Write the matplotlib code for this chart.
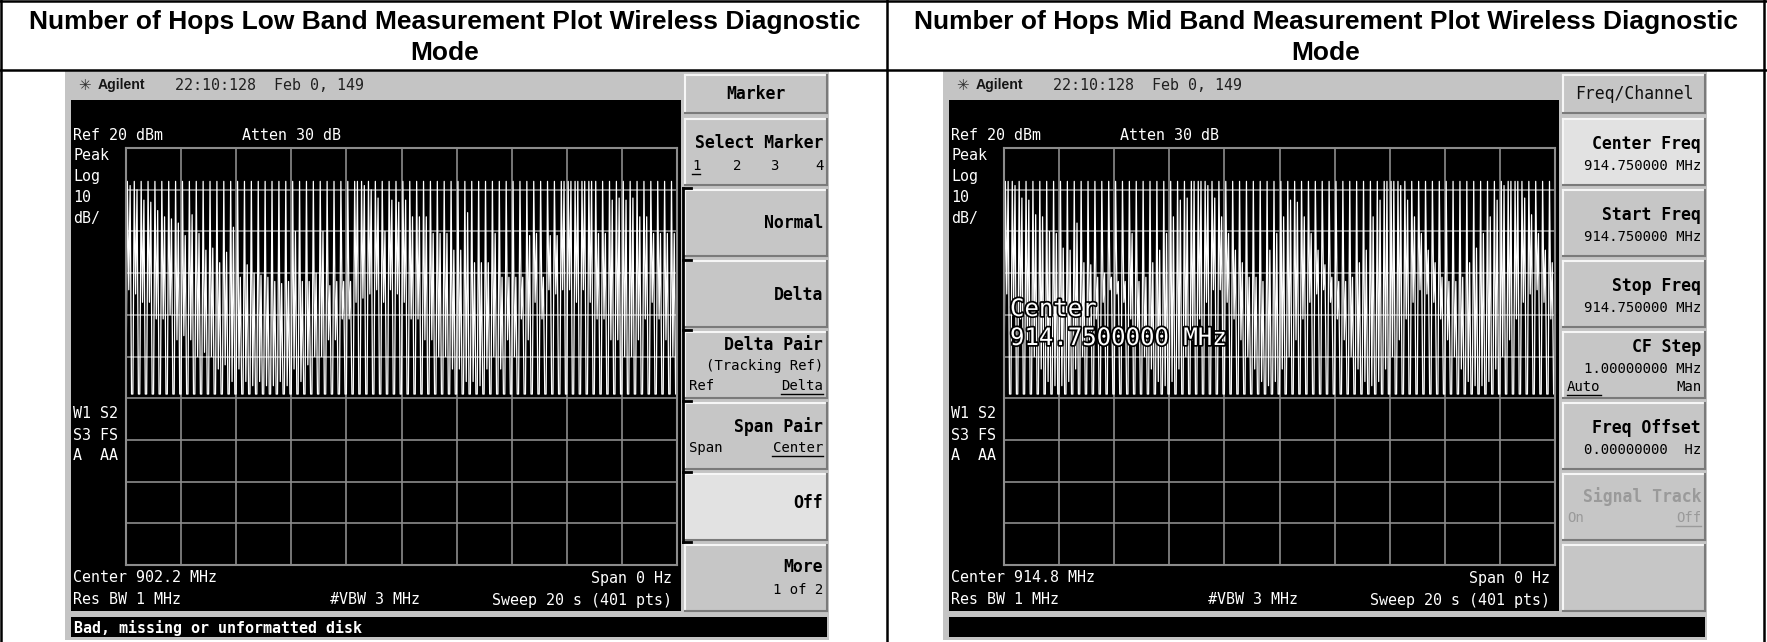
import matplotlib.pyplot as plt
from matplotlib.patches import Rectangle
import matplotlib.patheffects as pe
import numpy as np

W, H = 1767, 642

titles = [["Number of Hops Low Band Measurement Plot Wireless Diagnostic", "Mode"],
          ["Number of Hops Mid Band Measurement Plot Wireless Diagnostic", "Mode"]]
center_freqs = ["Center 902.2 MHz", "Center 914.8 MHz"]

# trace levels in dBm (ref 20 dBm, 10 dB/div)
top_level = 12
floor_level = -39
low_hi = [11, 10, 7.5, 7, 5, 3.5, 3, 2, -1, 4, -0.5, -4.5, -4, -7.5, -5, 1, -11, -8, -10, -10.5,
          -11, -12, -12.5, -12, 0, -12, -12, -10, 0, -13, -12, -12, -12, 12, 11, 10, 8, 0, 7.5, 7,
          7.5, 3.5, 3.5, 3.5, -0.5, -0.5, -0.5, -4.5, -4.5, 4.5, -7.5, -7.5, -7.5, -0.5, -11, -11, -11, -11, -1, -0.5,
          -11, -1, -1, 12, 12, 12, 12, 12, -0.5, -0.5, 7.5, 8, 7.5, 8, 3.5, 3.5, -0.5, -0.5, -0.5, -0.5]
low_lo = [-14, -15, -17, -17, -21, -21, -20, -26, -25, -26, -30, -29, -30, -33, -32, -36, -33, -36, -37, -36,
          -37, -37, -36, -37, -33, -36, -32, -30, -30, -26, -26, -21, -21, -17, -16, -15, -14, -17, -14, -15,
          -17, -21, -21, -26, -26, -30, -30, -33, -33, -36, -36, -37, -33, -30, -33, -26, -30, -21, -26, -17,
          -21, -14, -15, -14, -14, -17, -14, -17, -21, -21, -26, -26, -30, -30, -26, -21, -17, -21, -26, -30]
mid_hi = [12, 11, 8, 7.5, 4, 3.5, 0, -0.5, -4, -4.5, 2, -7.5, -8, -11, -10, -11, -12, -12, -0.5, -12,
          -11, -7.5, -4.5, -0.5, 3.5, 7.5, 8, 12, 12, 11, 8, 3.5, -0.5, -4.5, -7.5, -11, -11, -12, -4.5, -0.5,
          3.5, 7.5, 7, 3.5, -0.5, -4.5, -8, -11, -12, -12, -11, -7.5, -4.5, 3.5, 7.5, 12, 12, 11, 7.5, 3.5,
          -0.5, -4.5, -7.5, -11, -12, -12, -11, -7.5, -4, -0.5, 3.5, 7.5, 11, 12, 12, 8, 4, -0.5, -4.5, -7.5]
mid_lo = [-15, -17, -21, -26, -30, -33, -36, -37, -37, -36, -33, -30, -26, -21, -17, -14, -15, -17, -21, -26,
          -30, -33, -36, -37, -36, -33, -30, -26, -21, -17, -14, -14, -17, -21, -26, -30, -33, -36, -37, -36,
          -33, -30, -26, -21, -17, -15, -14, -17, -21, -26, -30, -33, -36, -37, -36, -33, -30, -26, -21, -17,
          -14, -15, -17, -21, -26, -30, -33, -36, -37, -37, -36, -33, -30, -26, -21, -17, -15, -14, -17, -21]

MONO = 'DejaVu Sans Mono'
GRAY = '#c4c4c4'
KEY = '#c6c6c6'
KEY_LIT = '#e2e2e2'

fig = plt.figure(figsize=(W / 100, H / 100), dpi=100)
ax = fig.add_axes([0, 0, 1, 1])
ax.set_xlim(0, W)
ax.set_ylim(H, 0)
ax.axis('off')


def pt(px):
    return px * 0.72


def txt(x, y, s, size=15, ha='left', color='white', weight='normal', family=MONO,
        underline=False, on=None, effects=None):
    a = on if on is not None else ax
    a.text(x, y, s, fontsize=pt(size), ha=ha, va='center', color=color,
           fontweight=weight, family=family, transform=ax.transData, clip_on=False,
           path_effects=effects)
    if underline:
        w = len(s) * 0.602 * size
        x0 = x - w if ha == 'right' else x
        ax.plot([x0, x0 + w], [y + size * 0.55, y + size * 0.55], color=color, lw=1)


def key(x, y, w, h, fc=KEY):
    ax.add_patch(Rectangle((x, y), w, h, fc=fc, ec='none'))
    ax.plot([x, x + w], [y, y], color='#f6f6f6', lw=1.5)
    ax.plot([x, x], [y, y + h], color='#f6f6f6', lw=1.5)
    ax.plot([x, x + w], [y + h, y + h], color='#7a7a7a', lw=1.5)
    ax.plot([x + w, x + w], [y, y + h], color='#7a7a7a', lw=1.5)


def panel(dx, cf_label, hi, lo):
    # instrument bezel, header and screen
    ax.add_patch(Rectangle((65 + dx, 71), 764, 569, fc=GRAY, ec='none'))
    ax.add_patch(Rectangle((71 + dx, 100), 610, 511, fc='black', ec='none'))
    ax.add_patch(Rectangle((71 + dx, 617), 756, 20, fc='black', ec='none'))
    txt(78 + dx, 85, '\u2733', size=15, color='#303030', family='DejaVu Sans')
    txt(98 + dx, 85, 'Agilent', size=14, color='#151515', weight='bold', family='Liberation Sans')
    txt(175 + dx, 85, '22:10:128  Feb 0, 149', color='#202020')

    txt(73 + dx, 135, 'Ref 20 dBm')
    txt(242 + dx, 135, 'Atten 30 dB')
    for yy, s in zip([156, 177, 198, 219], ['Peak', 'Log', '10', 'dB/']):
        txt(73 + dx, yy, s)
    for yy, s in zip([413, 435, 456], ['W1 S2', 'S3 FS', 'A  AA']):
        txt(73 + dx, yy, s)
    txt(73 + dx, 578, cf_label)
    txt(73 + dx, 600, 'Res BW 1 MHz')
    txt(330 + dx, 600, '#VBW 3 MHz')
    txt(672 + dx, 578, 'Span 0 Hz', ha='right')
    txt(672 + dx, 600, 'Sweep 20 s (401 pts)', ha='right')

    # trace graticule
    gx = fig.add_axes([(126 + dx) / W, 1 - 565 / H, 551 / W, 417 / H])
    gx.set_facecolor('black')
    gx.set_xlim(0, 400)
    gx.set_ylim(-80, 20)
    gx.set_xticks(np.arange(0, 401, 40))
    gx.set_yticks(np.arange(-80, 21, 10))
    gx.grid(True, color='#8c8c8c', lw=1.2)
    gx.tick_params(length=0, labelbottom=False, labelleft=False)
    for sp in gx.spines.values():
        sp.set_color('#8c8c8c')
        sp.set_linewidth(1.5)
    vals = []
    for h_, l_ in zip(hi, lo):
        vals += [floor_level, top_level, l_, h_, floor_level]
    vals.append(floor_level)
    gx.plot(np.arange(len(vals)), vals, color='white', lw=0.9)
    return gx


panel(0, center_freqs[0], low_hi, low_lo)
gx2 = panel(878, center_freqs[1], mid_hi, mid_lo)

# left softkeys
kx, kw = 685, 142
key(kx, 75, kw, 38)
txt(kx + kw / 2, 94, 'Marker', size=16.5, ha='center', color='black', weight='bold')
tops = [119, 190, 261, 332, 403, 474, 545]
for i, t in enumerate(tops):
    key(kx, t, kw, 66, KEY_LIT if i == 5 else KEY)
R = 823
txt(R, 143, 'Select Marker', size=16.5, ha='right', color='black', weight='bold')
txt(692, 166, '1', size=14, color='black', underline=True)
txt(733, 166, '2', size=14, color='black')
txt(770, 166, '3', size=14, color='black')
txt(815, 166, '4', size=14, color='black')
txt(R, 223, 'Normal', size=16.5, ha='right', color='black', weight='bold')
txt(R, 295, 'Delta', size=16.5, ha='right', color='black', weight='bold')
txt(R, 345, 'Delta Pair', size=16.5, ha='right', color='black', weight='bold')
txt(R, 366, '(Tracking Ref)', size=14, ha='right', color='black')
txt(689, 386, 'Ref', size=14, color='black')
txt(R, 386, 'Delta', size=14, ha='right', color='black', underline=True)
txt(R, 427, 'Span Pair', size=16.5, ha='right', color='black', weight='bold')
txt(689, 448, 'Span', size=14, color='black')
txt(R, 448, 'Center', size=14, ha='right', color='black', underline=True)
txt(R, 503, 'Off', size=16.5, ha='right', color='black', weight='bold')
txt(R, 567, 'More', size=16.5, ha='right', color='black', weight='bold')
txt(R, 590, '1 of 2', size=14, ha='right', color='black')
ax.plot([683, 683], [188, 542], color='black', lw=2)
for yy in [188, 260, 330, 401, 472, 542]:
    ax.plot([683, 691], [yy, yy], color='black', lw=2)
txt(74, 628, 'Bad, missing or unformatted disk', size=15, weight='bold')

# right softkeys
kx2 = kx + 878
R2 = R + 878
key(kx2, 75, kw, 38)
txt(kx2 + kw / 2, 94, 'Freq/Channel', size=16.5, ha='center', color='#101010')
for i, t in enumerate(tops):
    key(kx2, t, kw, 66, KEY_LIT if i == 0 else KEY)
for t, head, sub in [(119, 'Center Freq', '914.750000 MHz'), (190, 'Start Freq', '914.750000 MHz'),
                     (261, 'Stop Freq', '914.750000 MHz'), (403, 'Freq Offset', '0.00000000  Hz')]:
    txt(R2, t + 25, head, size=16.5, ha='right', color='black', weight='bold')
    txt(R2, t + 47, sub, size=14, ha='right', color='black')
txt(R2, 347, 'CF Step', size=16.5, ha='right', color='black', weight='bold')
txt(R2, 369, '1.00000000 MHz', size=14, ha='right', color='black')
txt(kx2 + 4, 387, 'Auto', size=14, color='black', underline=True)
txt(R2, 387, 'Man', size=14, ha='right', color='black')
txt(R2, 497, 'Signal Track', size=16.5, ha='right', color='#9a9a9a', weight='bold')
txt(kx2 + 4, 518, 'On', size=14, color='#9a9a9a')
txt(R2, 518, 'Off', size=14, ha='right', color='#9a9a9a', underline=True)

# overlay on the mid band trace (drawn by the trace axes so it sits on top)
halo = [pe.withStroke(linewidth=2.5, foreground='black')]
txt(1010, 309, 'Center', size=24, on=gx2, effects=halo)
txt(1010, 338, '914.7500000 MHz', size=24, on=gx2, effects=halo)

# table frame and titles
for xs, ys in [([1, 1], [0, H]), ([W - 3, W - 3], [0, H]), ([887, 887], [0, H]),
               ([0, W], [1, 1]), ([0, W], [70, 70])]:
    ax.plot(xs, ys, color='black', lw=1.8)
for cx, t in zip([445, 1326], titles):
    for yy, line in zip([22, 53], t):
        ax.text(cx, yy, line, fontsize=19, ha='center', va='center', fontweight='bold',
                family='Liberation Sans')

fig.savefig('out.png', dpi=100)
